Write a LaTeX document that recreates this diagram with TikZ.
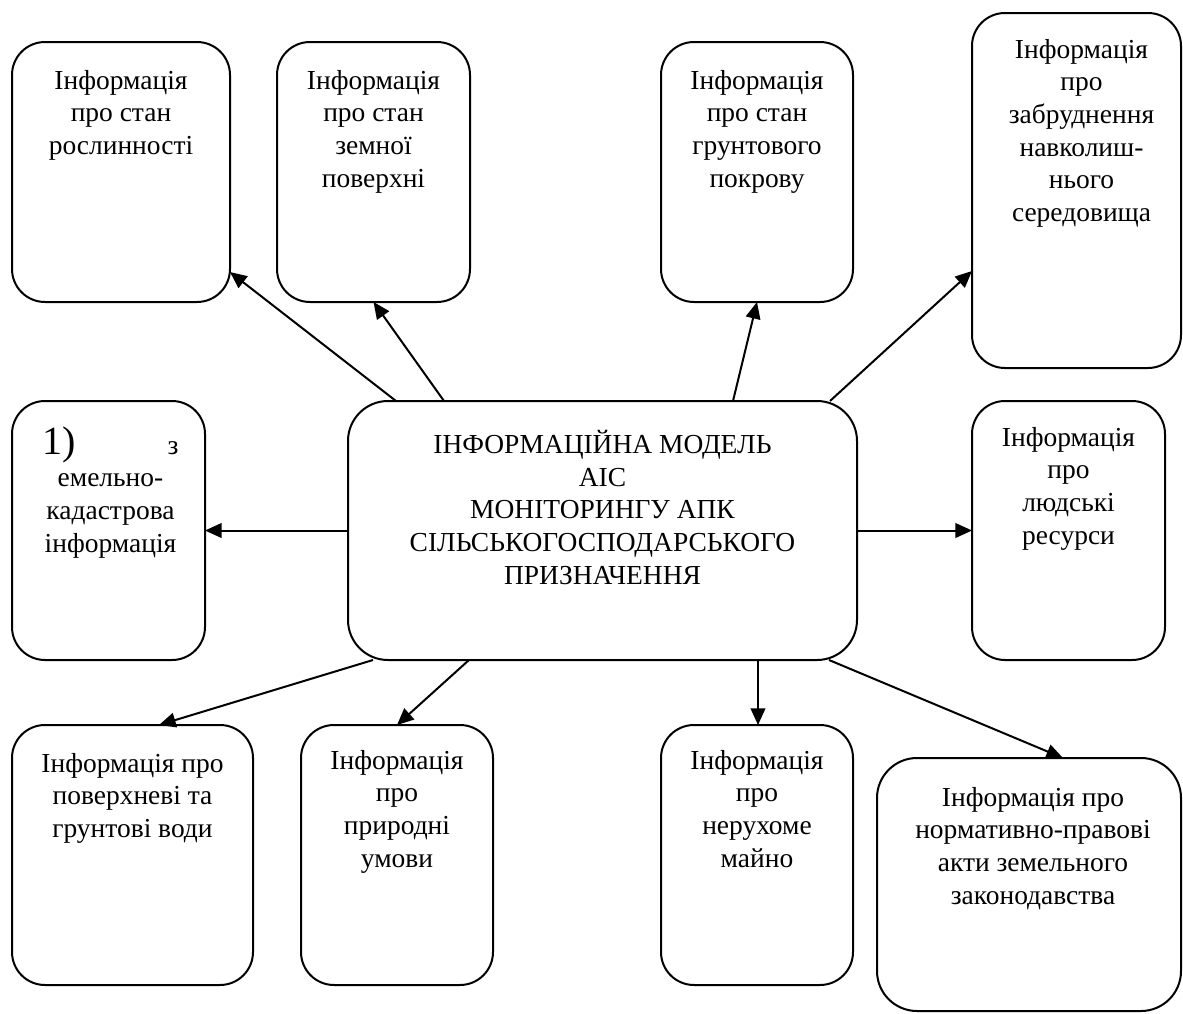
\documentclass[tikz,border=0pt]{standalone}
\usepackage{fontspec}
\setmainfont{Liberation Serif}
\usetikzlibrary{arrows.meta,calc}
\begin{document}
\begin{tikzpicture}[x=0.75pt,y=-0.75pt,
  box/.style={draw,line width=1.5pt,rounded corners=24.75pt,inner sep=0pt,outer sep=0pt,minimum height=195pt},
  bigbox/.style={box,rounded corners=30pt},
  txt/.style={anchor=north,inner sep=0pt,align=center,font=\fontsize{20.6pt}{24.5pt}\selectfont},
  arr/.style={line width=1.5pt,-{Triangle[length=12.5pt,width=11pt]}}]
\useasboundingbox (0,0) rectangle (1183,1014);
% top row
\node[box,minimum width=163.5pt] (b1) at (121,172) {};
\node[box,minimum width=144.75pt] (b2) at (373.5,172) {};
\node[box,minimum width=144pt] (b3) at (757,172) {};
\node[box,minimum width=156.75pt,minimum height=266.25pt] (b4) at (1076.5,190.5) {};
% middle row
\node[bigbox,minimum width=381.75pt,minimum height=194.25pt] (c) at (602.5,530.5) {};
\node[box,minimum width=144.75pt,minimum height=194.25pt] (lb) at (108.5,530.5) {};
\node[box,minimum width=144.75pt,minimum height=194.25pt] (rb) at (1068.5,530.5) {};
% bottom row
\node[box,minimum width=180.75pt] (d1) at (132.5,855) {};
\node[box,minimum width=144pt] (d2) at (397,855) {};
\node[box,minimum width=144pt] (d3) at (757,855) {};
\node[bigbox,minimum width=228pt,minimum height=189.75pt] (d4) at (1029,884.5) {};
% texts
\node[txt] (t1) at ($(b1.north)+(0,28)$) {Інформація\\про стан\\рослинності};
\node[txt] (t2) at ($(b2.north)+(0,28)$) {Інформація\\про стан\\земної\\поверхні};
\node[txt] (t3) at ($(b3.north)+(0,28)$) {Інформація\\про стан\\грунтового\\покрову};
\node[txt] (t4) at ($(b4.north)+(5,26)$) {Інформація\\про\\забруднення\\навколиш-\\нього\\середовища};
\node[txt] (tc) at ($(c.north)+(0,29)$) {ІНФОРМАЦІЙНА МОДЕЛЬ\\АІС\\МОНІТОРИНГУ АПК\\СІЛЬСЬКОГОСПОДАРСЬКОГО\\ПРИЗНАЧЕННЯ};
\node[txt] (tl) at ($(lb.north)+(2,25)$) {\makebox[102pt]{{\fontsize{30pt}{30pt}\selectfont 1)}\hfill з}\\емельно-\\кадастрова\\інформація};
\node[txt] (tr) at ($(rb.north)+(0,26)$) {Інформація\\про\\людські\\ресурси};
\node[txt] (s1) at ($(d1.north)+(0,28)$) {Інформація про\\поверхневі та\\грунтові води};
\node[txt] (s2) at ($(d2.north)+(0,25)$) {Інформація\\про\\природні\\умови};
\node[txt] (s3) at ($(d3.north)+(0,25)$) {Інформація\\про\\нерухоме\\майно};
\node[txt] (s4) at ($(d4.north)+(4,29)$) {Інформація про\\нормативно-правові\\акти земельного\\законодавства};
% connectors
\draw[arr] ($(c.north west)+(48,0)$) -- ($(b1.south east)+(0,-30)$);
\draw[arr] ($(c.north west)+(96,0)$) -- (b2.south);
\draw[arr] ($(c.north west)+(385,0)$) -- (b3.south);
\draw[arr] ($(c.north west)+(482,0)$) -- ($(b4.south west)+(0,-97)$);
\draw[arr] (c.west) -- (lb.east);
\draw[arr] (c.east) -- (rb.west);
\draw[arr] ($(c.south west)+(25,0)$) -- ($(d1.north west)+(147,0)$);
\draw[arr] ($(c.south west)+(121,0)$) -- (d2.north);
\draw[arr] ($(c.south west)+(410,0)$) -- ($(d3.north west)+(97,0)$);
\draw[arr] ($(c.south west)+(481,0)$) -- ($(d4.north west)+(186,0)$);
\end{tikzpicture}
\end{document}
